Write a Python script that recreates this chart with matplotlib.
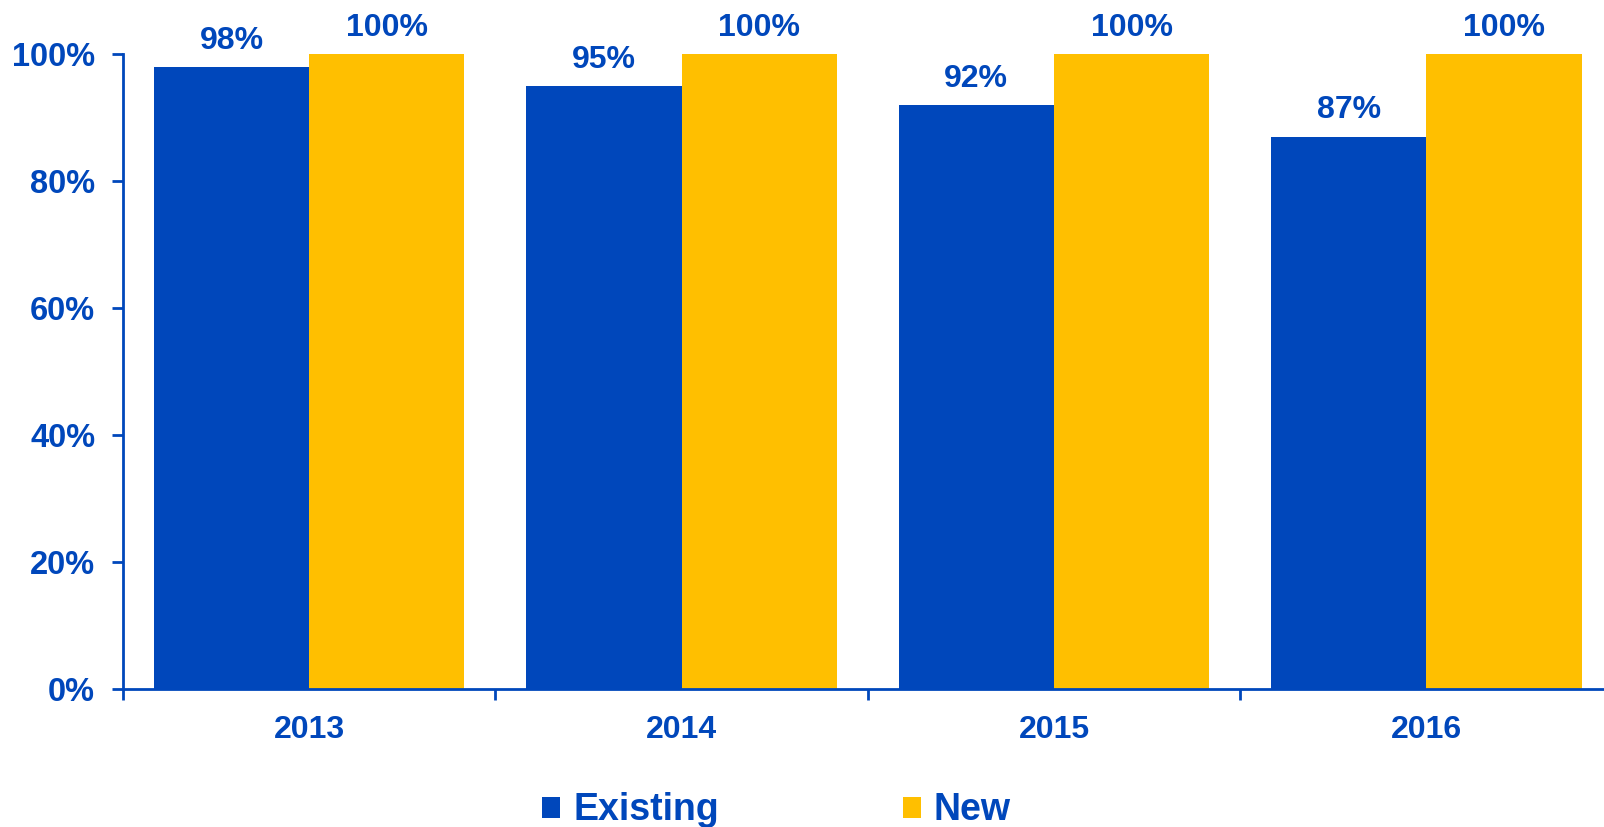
import numpy as np
import matplotlib.pyplot as plt
from matplotlib.ticker import FixedLocator, PercentFormatter

years = ["2013", "2014", "2015", "2016"]
existing = [98, 95, 92, 87]
new = [100, 100, 100, 100]

BLUE = "#0047BB"
YELLOW = "#FFBF00"

plt.rcParams["font.family"] = ["Liberation Sans", "DejaVu Sans"]
plt.rcParams["font.weight"] = "bold"

fig = plt.figure(figsize=(16.04, 8.27), dpi=100)
ax = fig.add_axes([123 / 1604, 1 - 689 / 827, 4 * 372.4 / 1604, 635 / 827])

x = np.arange(len(years))
w = 0.417
b1 = ax.bar(x - w / 2, existing, w, color=BLUE, label="Existing")
b2 = ax.bar(x + w / 2, new, w, color=YELLOW, label="New")

for bars, vals in [(b1, existing), (b2, new)]:
    for r, v in zip(bars, vals):
        ax.annotate(f"{v}%", (r.get_x() + r.get_width() / 2, v),
                    xytext=(0, 8), textcoords="offset points",
                    ha="center", va="bottom", fontsize=23,
                    fontweight="bold", color=BLUE)

ax.set_xlim(-0.5, len(years) - 0.5)
ax.set_ylim(0, 100)
ax.yaxis.set_major_locator(FixedLocator([0, 20, 40, 60, 80, 100]))
ax.yaxis.set_major_formatter(PercentFormatter(decimals=0))

# group boundaries as ticks, years as minor labels in the middle
ax.set_xticks(np.arange(-0.5, len(years), 1.0))
ax.set_xticklabels([])
ax.set_xticks(x, minor=True)
ax.set_xticklabels(years, minor=True)
ax.tick_params(axis="x", which="minor", length=0, pad=19, labelsize=23,
               labelcolor=BLUE)
ax.tick_params(axis="x", which="major", length=8, width=2, color=BLUE)
ax.tick_params(axis="y", length=8, width=2, color=BLUE, labelsize=23.5,
               labelcolor=BLUE, pad=12)
for lab in ax.get_yticklabels() + ax.get_xticklabels(minor=True):
    lab.set_fontweight("bold")

for s in ["top", "right"]:
    ax.spines[s].set_visible(False)
for s in ["left", "bottom"]:
    ax.spines[s].set_color(BLUE)
    ax.spines[s].set_linewidth(2)

leg = fig.legend(handles=[b1, b2], loc="center", bbox_to_anchor=(0.484, 0.02),
                 ncol=2, frameon=False, columnspacing=4.9,
                 handlelength=0.48, handleheight=0.48, handletextpad=0.35,
                 prop={"weight": "bold", "size": 27})
for t in leg.get_texts():
    t.set_color(BLUE)

fig.savefig("out.png", dpi=100)
